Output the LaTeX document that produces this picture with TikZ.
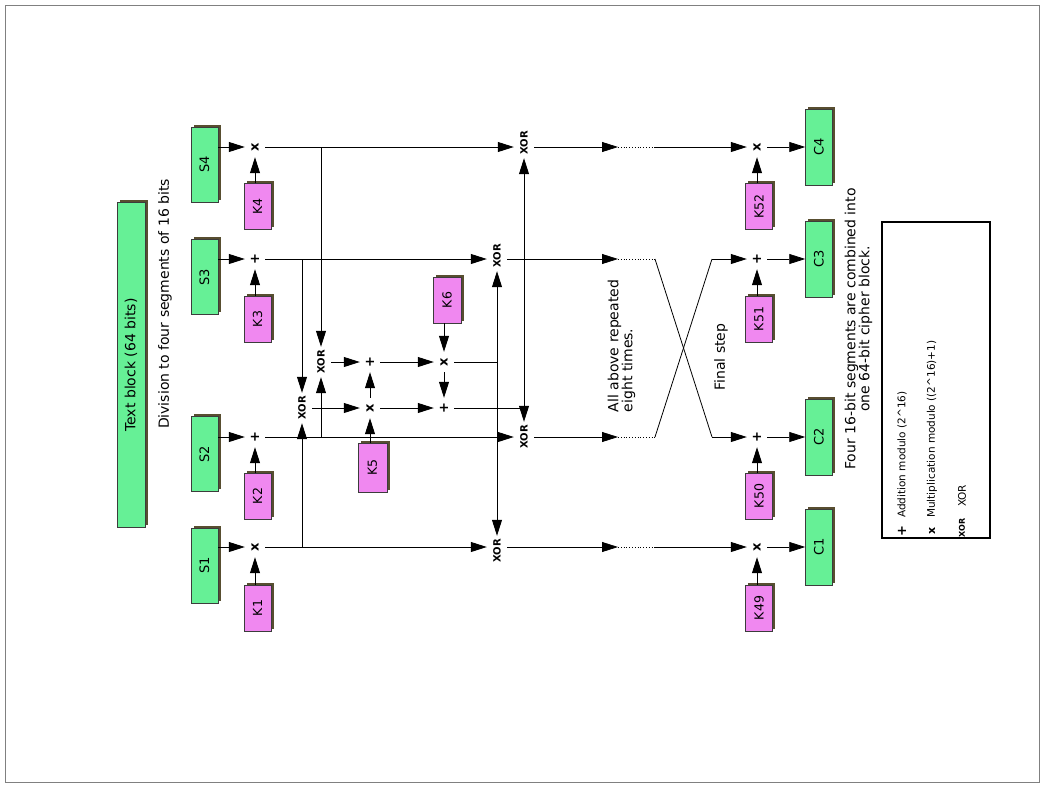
\documentclass[tikz,border=0pt]{standalone}
\usepackage{fontspec}
\usepackage{graphicx}
\setmainfont{DejaVu Sans}
\usetikzlibrary{arrows.meta,shadows}
\definecolor{sgreen}{RGB}{102,240,150}
\definecolor{kpink}{RGB}{240,136,240}
\definecolor{shad}{RGB}{88,78,48}
\definecolor{edgec}{RGB}{60,60,60}
\newcommand\rt[1]{\rotatebox{90}{#1}}
\tikzset{
  boxshadow/.style={general shadow={shadow xshift=2.5pt,shadow yshift=2.5pt,fill=shad}},
  gbox/.style={boxshadow,draw=edgec,line width=0.5pt,fill=sgreen,inner sep=0pt,minimum width=27pt,font=\fontsize{13}{14}\selectfont},
  sbox/.style={gbox,minimum height=75pt},
  cbox/.style={gbox,minimum height=76pt},
  kbox/.style={boxshadow,draw=edgec,line width=0.5pt,fill=kpink,inner sep=0pt,minimum width=27pt,minimum height=46pt,font=\fontsize{12.5}{14}\selectfont},
  op/.style={inner sep=0pt,minimum width=20pt,minimum height=20pt,font=\fontsize{13}{14}\selectfont\bfseries},
  xor/.style={inner sep=0pt,minimum width=20pt,minimum height=30pt,font=\fontsize{10}{11}\selectfont\bfseries},
  arr/.style={draw=black,line width=0.8pt,-{Triangle[length=16pt,width=10pt]}},
  ln/.style={draw=black,line width=0.8pt},
  dots/.style={draw=black,line width=0.8pt,dotted},
  txt/.style={inner sep=0pt,font=\fontsize{14}{14}\selectfont},
  legtxt/.style={inner sep=0pt,font=\fontsize{10.5}{12}\selectfont},
}
\begin{document}
\begin{tikzpicture}[x=1pt,y=-1pt]
\useasboundingbox (0,0) rectangle (1044,787);
\draw[gray,line width=0.6pt] (5,5) rectangle (1039,782);

% input block
\node[gbox,minimum width=28pt,minimum height=325pt,font=\fontsize{14}{14}\selectfont] (tb) at (131,365) {\rt{Text block (64 bits)}};
\node[txt] (div) at (165,304) {\rt{Division to four segments of 16 bits}};

% segments
\node[sbox] (S4) at (204.5,164.5) {\rt{S4}};
\node[sbox] (S3) at (204.5,277) {\rt{S3}};
\node[sbox] (S2) at (204.5,454) {\rt{S2}};
\node[sbox] (S1) at (204.5,565.5) {\rt{S1}};

% first operators
\node[op] (x4) at (255,147) {\rt{x}};
\node[op] (p3) at (255,259) {\rt{+}};
\node[op] (p2) at (255,437) {\rt{+}};
\node[op] (x1) at (255,547) {\rt{x}};

\node[kbox] (K4) at (257.5,206.5) {\rt{K4}};
\node[kbox] (K3) at (257.5,319) {\rt{K3}};
\node[kbox] (K2) at (257.5,496) {\rt{K2}};
\node[kbox] (K1) at (257.5,608) {\rt{K1}};

% middle
\node[xor] (xb) at (321,362) {\rt{XOR}};
\node[xor] (xa) at (302,408) {\rt{XOR}};
\node[op] (m1) at (370,408) {\rt{x}};
\node[op] (a1) at (370,362) {\rt{+}};
\node[op] (m2) at (444,362) {\rt{x}};
\node[op] (a2) at (444,408) {\rt{+}};
\node[kbox,minimum width=29pt,minimum height=49pt] (K5) at (372.5,467.5) {\rt{K5}};
\node[kbox,minimum width=28pt] (K6) at (447,300) {\rt{K6}};

% row xors
\node[xor] (X4) at (524,143) {\rt{XOR}};
\node[xor] (X3) at (497,256) {\rt{XOR}};
\node[xor] (X2) at (524,437) {\rt{XOR}};
\node[xor] (X1) at (497,551) {\rt{XOR}};

% junctions
\coordinate (j4) at (321,147);
\coordinate (j2) at (321,437);
\coordinate (j3) at (302,259);
\coordinate (j1) at (302,547);
\coordinate (c5) at (497,362);
\coordinate (c6) at (524,408);
\coordinate (d4a) at (618,147); \coordinate (d4b) at (655,147);
\coordinate (d3a) at (618,259); \coordinate (d3b) at (655,259);
\coordinate (d2a) at (618,437); \coordinate (d2b) at (655,437);
\coordinate (d1a) at (618,547); \coordinate (d1b) at (655,547);
\coordinate (e2) at (712,437);
\coordinate (e3) at (712,259);

% final
\node[op] (x52) at (757,147) {\rt{x}};
\node[op] (p51) at (757,259) {\rt{+}};
\node[op] (p50) at (757,437) {\rt{+}};
\node[op] (x49) at (757,547) {\rt{x}};
\node[kbox] (K52) at (759,206.5) {\rt{K52}};
\node[kbox] (K51) at (759,319) {\rt{K51}};
\node[kbox] (K50) at (759,496) {\rt{K50}};
\node[kbox] (K49) at (759,608) {\rt{K49}};
\node[cbox] (C4) at (819,147) {\rt{C4}};
\node[cbox] (C3) at (819,259) {\rt{C3}};
\node[cbox] (C2) at (819,437) {\rt{C2}};
\node[cbox] (C1) at (819,547) {\rt{C1}};

% texts
\node[txt,rotate=90,align=left] (rep) at (621.5,346) {All above repeated\\eight times.};
\node[txt,rotate=90] (fin) at (721,357) {Final step};
\node[txt,rotate=90,align=center] (four) at (858.5,329) {Four 16-bit segments are combined into\\one 64-bit cipher block.};

% legend
\node[draw=black,line width=1.2pt,minimum width=108pt,minimum height=316pt,inner sep=0pt] (leg) at (936,380) {};
\node[op] (lp) at (902,531) {\rt{+}};
\node[op,font=\fontsize{11}{12}\selectfont\bfseries] (lx) at (932,531) {\rt{x}};
\node[xor,minimum height=20pt,font=\fontsize{8}{9}\selectfont\bfseries] (lxor) at (962,528) {\rt{XOR}};
\node[legtxt,anchor=south] (lt1) at (902,518) {\rt{Addition modulo (2\textasciicircum 16)}};
\node[legtxt,anchor=south] (lt2) at (932,518) {\rt{Multiplication modulo ((2\textasciicircum 16)+1)}};
\node[legtxt,anchor=south] (lt3) at (962,507) {\rt{XOR}};

% connectors: inputs
\draw[arr] (S4.east |- x4) -- (x4);
\draw[arr] (S3.east |- p3) -- (p3);
\draw[arr] (S2.east |- p2) -- (p2);
\draw[arr] (S1.east |- x1) -- (x1);
\draw[arr] (K4.north -| x4) -- (x4);
\draw[arr] (K3.north -| p3) -- (p3);
\draw[arr] (K2.north -| p2) -- (p2);
\draw[arr] (K1.north -| x1) -- (x1);

% rows to xor
\draw[arr] (x4) -- (x4 -| X4.west);
\draw[arr] (p3) -- (p3 -| X3.west);
\draw[arr] (p2) -- (p2 -| X2.west);
\draw[arr] (x1) -- (x1 -| X1.west);

% branches
\draw[arr] (j4) -- (xb);
\draw[arr] (j2) -- (xb);
\draw[arr] (j3) -- (xa);
\draw[arr] (j1) -- (xa);

% MA structure
\draw[arr] (xa) -- (m1);
\draw[arr] (K5.north -| m1) -- (m1);
\draw[arr] (m1) -- (a1);
\draw[arr] (xb) -- (a1);
\draw[arr] (a1) -- (m2);
\draw[arr] (K6.south -| m2) -- (m2);
\draw[arr] (m2) -- (a2);
\draw[arr] (m1) -- (a2);
\draw[ln] (m2) -- (c5);
\draw[arr] (c5) -- (X3);
\draw[arr] (c5) -- (X1);
\draw[ln] (a2) -- (c6);
\draw[arr] (c6) -- (X4);
\draw[arr] (c6) -- (X2);

% after xors
\draw[arr] (x4 -| X4.east) -- (d4a);
\draw[arr] (p3 -| X3.east) -- (d3a);
\draw[arr] (p2 -| X2.east) -- (d2a);
\draw[arr] (x1 -| X1.east) -- (d1a);
\draw[dots] (d4a) -- (d4b);
\draw[dots] (d3a) -- (d3b);
\draw[dots] (d2a) -- (d2b);
\draw[dots] (d1a) -- (d1b);
\draw[arr] (d4b) -- (x52);
\draw[ln] (d3b) -- (e2);
\draw[arr] (e2) -- (p50);
\draw[ln] (d2b) -- (e3);
\draw[arr] (e3) -- (p51);
\draw[arr] (d1b) -- (x49);

% final step
\draw[arr] (K52.north -| x52) -- (x52);
\draw[arr] (K51.north -| p51) -- (p51);
\draw[arr] (K50.north -| p50) -- (p50);
\draw[arr] (K49.north -| x49) -- (x49);
\draw[arr] (x52) -- (C4);
\draw[arr] (p51) -- (C3);
\draw[arr] (p50) -- (C2);
\draw[arr] (x49) -- (C1);
\end{tikzpicture}
\end{document}
